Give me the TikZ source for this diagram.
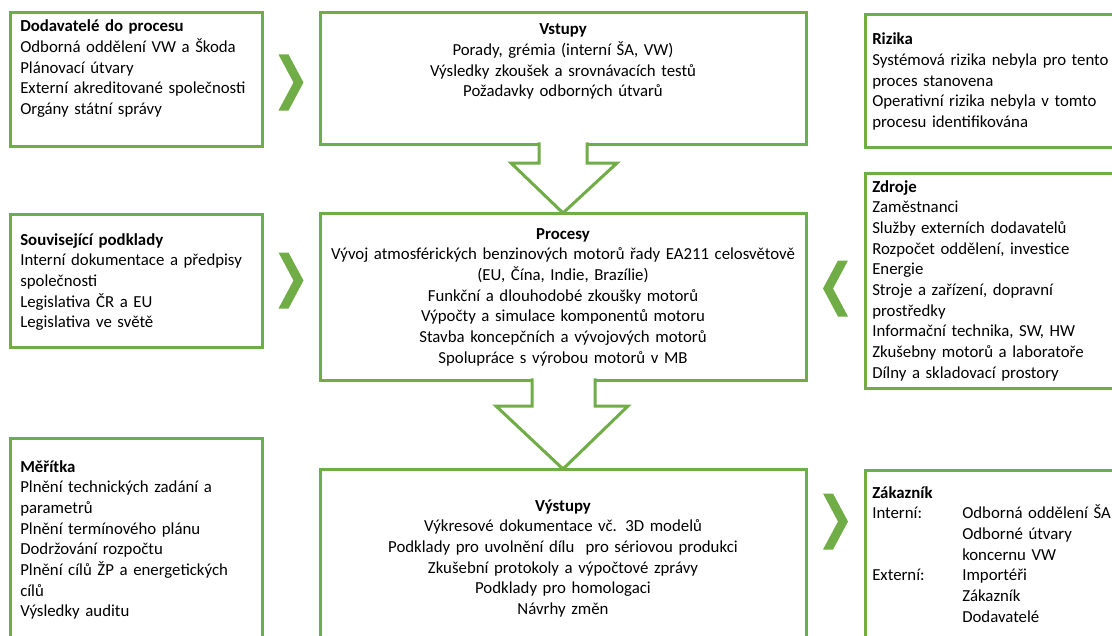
\documentclass[tikz,border=0pt]{standalone}
\usepackage{fontspec}
\setmainfont{Carlito}
\usetikzlibrary{calc,fit}
\definecolor{grn}{HTML}{70AD47}
\tikzset{
  box/.style={draw=grn, line width=2.25pt, inner sep=0pt, outer sep=0pt},
  txt/.style={inner sep=0pt, anchor=base west, align=left, text width=#1,
    font=\fontsize{12.6}{15.5}\selectfont},
  txt/.default=200pt,
  ctxt/.style={inner sep=0pt, anchor=base, align=center, text width=#1,
    font=\fontsize{12.6}{15.5}\selectfont},
  ctxt/.default=370pt,
  barrow/.style={draw=grn, line width=2.25pt, fill=white, line join=miter},
  pics/chevright/.style={code={
    \fill[grn] (-12.5,-28) -- (-2.5,-28) -- (12.5,0) -- (-2.5,28) -- (-12.5,28) -- (2.5,0) -- cycle;}},
  pics/chevleft/.style={code={
    \fill[grn] (12.5,-28) -- (2.5,-28) -- (-12.5,0) -- (2.5,28) -- (12.5,28) -- (-2.5,0) -- cycle;}},
}
\begin{document}
\begin{tikzpicture}[x=0.75pt,y=-0.75pt]
\useasboundingbox (0,0) rectangle (1112,635);
\fill[white] (0,0) rectangle (1112,635);
\clip (0,0) rectangle (1112,635);

% boxes
\node[box, fit={(10,13)(262,146)}] (dod) {};
\node[box, fit={(320,13)(806,144)}] (vst) {};
\node[box, fit={(865,15)(1130,147)}] (riz) {};
\node[box, fit={(10,214)(262,347)}] (sou) {};
\node[box, fit={(320,213)(806,380)}] (pro) {};
\node[box, fit={(865,173)(1130,388)}] (zdr) {};
\node[box, fit={(10,438)(262,660)}] (mer) {};
\node[box, fit={(320,469)(806,660)}] (vys) {};
\node[box, fit={(865,470)(1130,660)}] (zak) {};

% texts
\node[txt] (tdod) at ($(dod.north west)+(10,19)$) {\textbf{Dodavatelé do procesu}\\
Odborná oddělení VW a Škoda\\
Plánovací útvary\\
Externí akreditované společnosti\\
Orgány státní správy};

\node[ctxt] (tvst) at ($(vst.north)+(0,22)$) {\textbf{Vstupy}\\
Porady, grémia (interní ŠA, VW)\\
Výsledky zkoušek a srovnávacích testů\\
Požadavky odborných útvarů};

\node[txt] (triz) at ($(riz.north west)+(7,30)$) {\textbf{Rizika}\\
Systémová rizika nebyla pro tento\\
proces stanovena\\
Operativní rizika nebyla v tomto\\
procesu identifikována};

\node[txt] (tsou) at ($(sou.north west)+(10,31)$) {\textbf{Související podklady}\\
Interní dokumentace a předpisy\\
společnosti\\
Legislativa ČR a EU\\
Legislativa ve světě};

\node[ctxt] (tpro) at ($(pro.north)+(0,26)$) {\textbf{Procesy}\\
Vývoj atmosférických benzinových motorů řady EA211 celosvětově\\
(EU, Čína, Indie, Brazílie)\\
Funkční a dlouhodobé zkoušky motorů\\
Výpočty a simulace komponentů motoru\\
Stavba koncepčních a vývojových motorů\\
Spolupráce s výrobou motorů v MB};

\node[txt] (tzdr) at ($(zdr.north west)+(7,19)$) {\textbf{Zdroje}\\
Zaměstnanci\\
Služby externích dodavatelů\\
Rozpočet oddělení, investice\\
Energie\\
Stroje a zařízení, dopravní\\
prostředky\\
Informační technika, SW, HW\\
Zkušebny motorů a laboratoře\\
Dílny a skladovací prostory};

\node[txt] (tmer) at ($(mer.north west)+(10,34)$) {\textbf{Měřítka}\\
Plnění technických zadání a\\
parametrů\\
Plnění termínového plánu\\
Dodržování rozpočtu\\
Plnění cílů ŽP a energetických\\
cílů\\
Výsledky auditu};

\node[ctxt] (tvys) at ($(vys.north)+(0,42)$) {\textbf{Výstupy}\\
Výkresové dokumentace vč. 3D modelů\\
Podklady pro uvolnění dílu\ \ pro sériovou produkci\\
Zkušební protokoly a výpočtové zprávy\\
Podklady pro homologaci\\
Návrhy změn};

\node[txt=250pt] (tzak) at ($(zak.north west)+(7,28)$) {\textbf{Zákazník}\\
\makebox[67.5pt][l]{Interní:}Odborná oddělení ŠA\\
\hspace*{67.5pt}Odborné útvary\\
\hspace*{67.5pt}koncernu VW\\
\makebox[67.5pt][l]{Externí:}Importéři\\
\hspace*{67.5pt}Zákazník\\
\hspace*{67.5pt}Dodavatelé};

% chevrons
\coordinate (c1) at ($(dod.east)!0.5!(dod.east -| vst.west)+(0,3)$);
\pic at (c1) {chevright};
\coordinate (c2) at ($(sou.east)!0.5!(sou.east -| pro.west)$);
\pic at (c2) {chevright};
\coordinate (c3) at ($(pro.east)!0.5!(zdr.west)$);
\pic at (c3) {chevleft};
\coordinate (c4) at ($(vys.north east)!0.5!(zak.north west)+(0,52)$);
\pic at (c4) {chevright};

% block arrows
\coordinate (a1) at (vst.south);
\coordinate (b1) at (pro.north);
\filldraw[barrow] ($(a1)+(-24,-1.6)$) -- ($(a1)+(-24,19)$) -- ($(a1)+(-52,19)$)
  -- (b1) -- ($(a1)+(54,19)$) -- ($(a1)+(24,19)$) -- ($(a1)+(24,-1.6)$);
\coordinate (a2) at (pro.south);
\coordinate (b2) at (vys.north);
\filldraw[barrow] ($(a2)+(-31,-1.6)$) -- ($(a2)+(-31,26)$) -- ($(a2)+(-67,26)$)
  -- (b2) -- ($(a2)+(65,26)$) -- ($(a2)+(32,26)$) -- ($(a2)+(32,-1.6)$);
\end{tikzpicture}
\end{document}
